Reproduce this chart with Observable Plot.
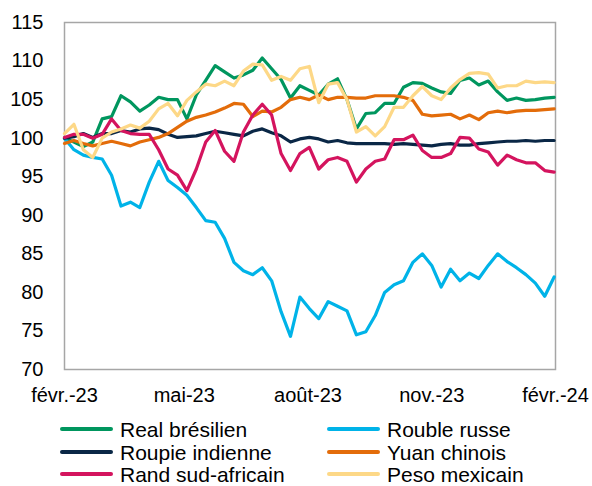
<!DOCTYPE html>
<html><head><meta charset="utf-8">
<script src="https://cdn.jsdelivr.net/npm/d3@7"></script>
<script src="https://cdn.jsdelivr.net/npm/@observablehq/plot@0.6"></script>
<style>
body{margin:0;background:#fff;font-family:"Liberation Sans",Arial,sans-serif;}
#wrap{position:relative;width:592px;height:486px;overflow:hidden;}
.leg{position:absolute;display:flex;align-items:center;font-size:21px;line-height:21px;color:#000;height:22px;white-space:nowrap;}
.leg .sw{display:inline-block;width:53px;height:4px;margin-right:7px;border-radius:2px;}
</style></head><body><div id="wrap"></div>
<script>
const startDate = "2023-02-01";
const seriesNames = ["Real brésilien","Rouble russe","Roupie indienne","Yuan chinois","Rand sud-africain","Peso mexicain"];
const seriesColors = ["#00965e","#00b3e8","#0a2746","#e36c0a","#d4145e","#fdd887"];
const realBresilien = [100.0,99.5,98.9,99.5,102.5,102.8,105.5,104.7,103.5,104.3,105.3,105.0,105.0,102.5,105.6,107.5,109.4,108.6,107.8,108.2,108.8,110.4,109.0,107.6,105.2,106.8,106.2,105.6,107.0,107.7,105.0,101.2,103.2,103.3,104.5,104.5,106.6,107.2,107.1,106.5,106.0,105.8,107.5,107.8,106.9,107.4,106.0,104.9,105.2,104.9,105.0,105.2,105.3];
const roubleRusse = [100.0,98.5,97.8,97.5,97.3,95.2,91.2,91.7,91.0,94.3,97.0,94.5,93.6,92.6,91.0,89.3,89.1,87.0,83.9,82.8,82.3,83.2,81.5,77.5,74.3,79.4,77.9,76.6,78.8,78.2,77.6,74.5,74.9,77.0,80.0,81.0,81.5,83.9,85.0,83.5,80.7,83.0,81.5,82.5,81.8,83.5,85.0,84.0,83.2,82.3,81.2,79.5,82.0];
const roupieIndienne = [100.0,100.2,100.6,100.1,100.6,100.6,101.0,100.8,101.2,101.3,101.1,100.5,100.1,100.2,100.3,100.6,100.9,100.7,100.5,100.3,100.9,101.2,100.7,100.3,99.5,99.9,100.1,99.9,99.5,99.7,99.4,99.3,99.3,99.3,99.3,99.2,99.3,99.2,99.1,99.0,99.2,99.3,99.1,99.1,99.3,99.4,99.5,99.6,99.6,99.7,99.6,99.7,99.7];
const yuanChinois = [99.3,99.7,99.3,99.0,99.3,99.6,99.3,99.0,99.5,99.8,100.1,100.6,101.4,102.2,102.7,103.0,103.4,103.9,104.5,104.4,102.8,103.5,103.4,104.0,105.0,105.3,105.0,105.6,105.0,105.3,105.3,105.2,105.2,105.5,105.5,105.5,105.3,104.9,103.1,102.9,103.0,103.1,102.5,103.0,102.4,103.3,103.5,103.3,103.5,103.6,103.6,103.7,103.8];
const randSudAfricain = [100.1,100.5,100.5,100.0,100.5,102.5,101.0,100.6,100.5,100.5,98.5,96.0,95.2,93.2,96.0,99.5,101.0,98.3,97.0,100.8,103.0,104.4,103.0,98.0,95.8,98.0,98.8,96.0,97.2,97.5,97.0,94.3,96.0,97.0,97.3,99.8,99.8,100.4,98.4,97.5,97.5,98.0,100.1,100.0,98.6,98.2,96.5,97.8,97.2,96.8,96.8,95.8,95.6];
const pesoMexicain = [100.6,101.8,98.5,97.5,100.0,100.8,101.2,101.7,101.3,102.2,103.8,104.5,102.9,104.9,106.0,107.0,106.8,107.4,106.8,108.7,109.6,109.5,107.5,108.0,107.5,109.0,109.3,104.6,107.0,107.2,105.0,100.8,101.5,100.3,101.5,104.0,104.0,105.5,106.7,105.5,105.0,106.5,107.6,108.4,108.5,108.3,106.5,106.8,106.8,107.4,107.2,107.3,107.2];
const tickDates = ["2023-02-01","2023-05-01","2023-08-01","2023-11-01","2024-02-01"];
const tickLabels = ["févr.-23","mai-23","août-23","nov.-23","févr.-24"];
const yTicks = [70,75,80,85,90,95,100,105,110,115];
const xDomain = ["2023-02-01","2024-02-01"];

const allValues = [realBresilien, roubleRusse, roupieIndienne, yuanChinois, randSudAfricain, pesoMexicain];
const t0 = new Date(startDate + "T00:00:00Z");
const rows = [];
allValues.forEach((vals, k) => vals.forEach((v, i) => rows.push({series: seriesNames[k], date: d3.utcDay.offset(t0, 7 * i), value: v})));
const labelMap = new Map(tickDates.map((d, i) => [+new Date(d + "T00:00:00Z"), tickLabels[i]]));

const chart = Plot.plot({
  width: 592, height: 410,
  marginLeft: 64, marginRight: 37, marginTop: 22, marginBottom: 41,
  style: {fontFamily: "'Liberation Sans', Arial, sans-serif", fontSize: "20px", color: "#000", background: "#fff", overflow: "visible"},
  x: {type: "utc", domain: xDomain.map(d => new Date(d + "T00:00:00Z")), ticks: tickDates.map(d => new Date(d + "T00:00:00Z")), tickFormat: d => labelMap.get(+d), tickSize: 0, tickPadding: 18, label: null},
  y: {domain: [70, 115], ticks: yTicks, tickSize: 0, tickPadding: 21, label: null},
  marks: [
    Plot.frame({stroke: "#a6a6a6", strokeWidth: 1.5}),
    ...seriesNames.map((s, k) => Plot.line(rows.filter(r => r.series === s), {x: "date", y: "value", stroke: seriesColors[k], strokeWidth: 3.2, strokeLinejoin: "round", strokeLinecap: "round"}))
  ]
});
const wrap = document.getElementById("wrap");
wrap.appendChild(chart);

const legPos = [[60, 429], [327, 429], [60, 452], [327, 452], [60, 474], [327, 474]];
seriesNames.forEach((s, k) => {
  const d = document.createElement("div");
  d.className = "leg";
  d.style.left = legPos[k][0] + "px";
  d.style.top = (legPos[k][1] - 11) + "px";
  d.innerHTML = `<span class="sw" style="background:${seriesColors[k]}"></span><span>${s}</span>`;
  wrap.appendChild(d);
});
</script></body></html>
